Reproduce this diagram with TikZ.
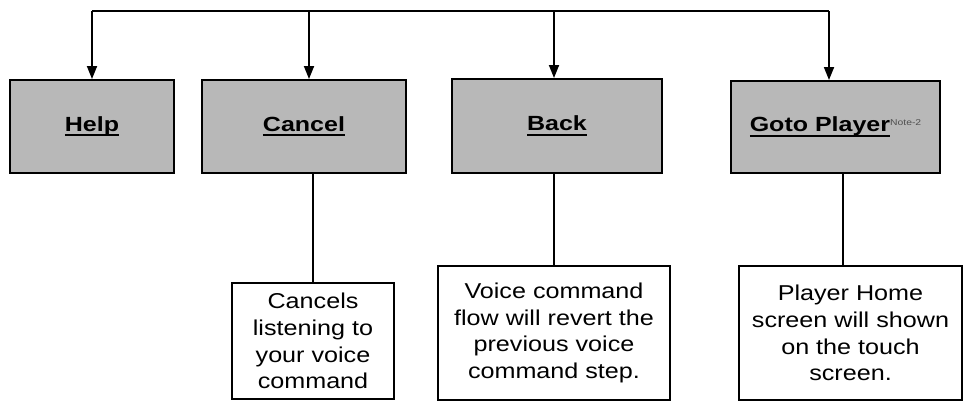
\documentclass[tikz,border=0pt]{standalone}
\usepackage{fontspec}
\setmainfont{Liberation Sans}
\newfontfamily\hdrfont[FakeStretch=1.22]{Liberation Sans}
\newfontfamily\bodyfont[FakeStretch=1.17]{Liberation Sans}
\usetikzlibrary{arrows.meta}
\definecolor{boxgray}{RGB}{184,184,184}
\definecolor{notegray}{RGB}{80,80,80}
\newcommand\myul[1]{\setbox0\hbox{#1}\rlap{\rule[-5pt]{\wd0}{2pt}}\box0}
\tikzset{
  hdr/.style={draw=black, line width=2pt, fill=boxgray, inner sep=0pt,
    font=\hdrfont\bfseries\fontsize{20.5}{24}\selectfont},
  desc/.style={draw=black, line width=1.8pt, fill=white, align=center, inner sep=0pt,
    font=\bodyfont\fontsize{21.5}{26.7}\selectfont},
  conn/.style={line width=1.8pt},
  trunk/.style={line width=2.4pt},
  arr/.style={line width=1.8pt, -{Triangle[width=10pt,length=13pt]}},
}
\begin{document}
\begin{tikzpicture}[x=1pt,y=-1pt]
\useasboundingbox[fill=white] (0,0) rectangle (968,402);
% header boxes
\node[hdr, minimum width=164pt, minimum height=93pt] (help) at (92,126.5) {\myul{Help}};
\node[hdr, minimum width=204pt, minimum height=93pt] (cancel) at (304,126.5) {\myul{Cancel}};
\node[hdr, minimum width=210pt, minimum height=94pt] (back) at (557,126) {\myul{Back}};
\node[hdr, minimum width=209pt, minimum height=92pt] (goto) at (835.5,127)
  {\myul{Goto Player}\raisebox{6pt}{\fontsize{8.5}{9}\selectfont\mdseries\color{notegray}Note-2}};
% description boxes
\node[desc, minimum width=162pt, minimum height=116pt] (cdesc) at (313,341)
  {Cancels\\listening to\\your voice\\command};
\node[desc, minimum width=232pt, minimum height=134pt] (bdesc) at (554,333)
  {Voice command\\flow will revert the\\previous voice\\command step.};
\node[desc, minimum width=223pt, minimum height=134pt] (gdesc) at (850.5,333)
  {Player Home\\screen will shown\\on the touch\\screen.};
% trunk
\coordinate (top) at (0,11);
\draw[trunk] (help.north |- top) -- ([xshift=-6.5pt]goto.north |- top);
% arrows down
\draw[arr] (help.north |- top) -- (help.north);
\draw[arr] ([xshift=5pt]cancel.north |- top) -- ([xshift=5pt]cancel.north);
\draw[arr] ([xshift=-3pt]back.north |- top) -- ([xshift=-3pt]back.north);
\draw[arr] ([xshift=-6.5pt]goto.north |- top) -- ([xshift=-6.5pt]goto.north);
% connectors to descriptions
\draw[conn] (cdesc.north |- cancel.south) -- (cdesc.north);
\draw[conn] (bdesc.north |- back.south) -- (bdesc.north);
\draw[conn] ([xshift=-7.5pt]gdesc.north |- goto.south) -- ([xshift=-7.5pt]gdesc.north);
\end{tikzpicture}
\end{document}
